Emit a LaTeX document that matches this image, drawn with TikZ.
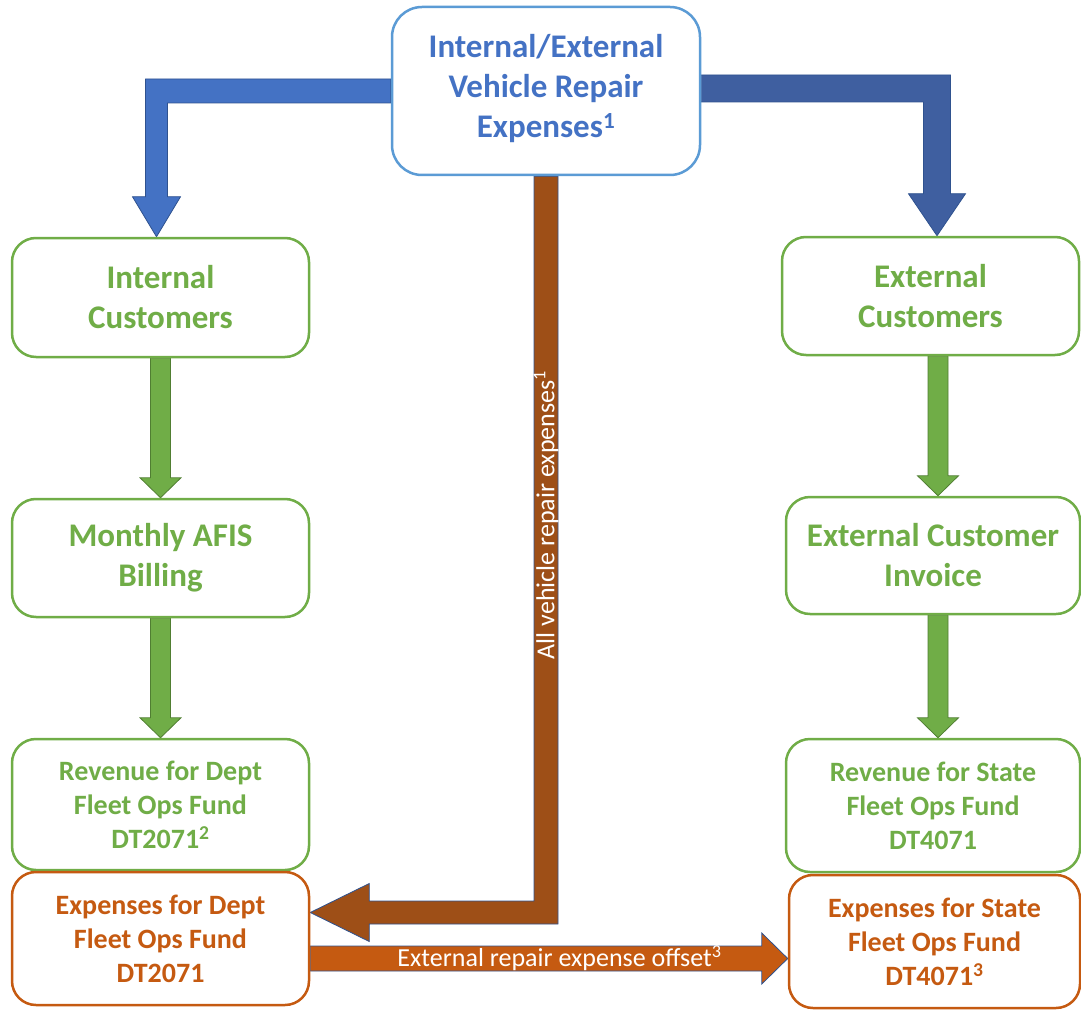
\documentclass[tikz,border=0pt]{standalone}
\usepackage{fontspec}
\setmainfont{Carlito}
\usetikzlibrary{calc,backgrounds}
\definecolor{tblue}{HTML}{4472C4}
\definecolor{bord}{HTML}{5B9BD5}
\definecolor{dblue}{HTML}{3F5FA0}
\definecolor{gr}{HTML}{70AD47}
\definecolor{dgr}{HTML}{507E32}
\definecolor{org}{HTML}{C55A11}
\definecolor{brn}{HTML}{9E4F17}
\definecolor{ol}{HTML}{2F528F}
\begin{document}
\begin{tikzpicture}[x=1pt,y=-1pt,
  box/.style={draw, line width=2.5pt, rounded corners=24pt, fill=white, align=center, inner sep=0pt},
  bigtext/.style={font=\bfseries\fontsize{33}{40}\selectfont},
  smalltext/.style={font=\bfseries\fontsize{28}{34}\selectfont},
  topbox/.style={box, bigtext, rounded corners=30pt, draw=bord, text=tblue},
  greenbox/.style={box, bigtext, draw=gr, text=gr},
  greensmall/.style={box, smalltext, draw=gr, text=gr},
  orangesmall/.style={box, smalltext, draw=org, text=org},
  bluearrow/.style={fill=tblue, draw=ol, line width=0.8pt, line join=miter},
  darkbluearrow/.style={fill=dblue, draw=ol, line width=0.8pt, line join=miter},
  greenarrow/.style={fill=gr, draw=dgr, line width=0.8pt, line join=miter},
  brownarrow/.style={fill=brn, draw=ol, line width=0.8pt, line join=miter},
  orangearrow/.style={fill=org, draw=ol, line width=0.8pt, line join=miter},
  arrowlabel/.style={text=white, inner sep=0pt, font=\fontsize{26}{30}\selectfont}
]
\useasboundingbox (0,0) rectangle (1081,1011);

% nodes
\node[topbox, minimum width=308pt, minimum height=168pt, text depth=10pt] (top) at (546,91)
  {Internal/External\\Vehicle Repair\\Expenses\textsuperscript{1}};
\node[greenbox, minimum width=297pt, minimum height=119pt] (ic) at (160.5,297.5)
  {Internal\\Customers};
\node[greenbox, minimum width=297pt, minimum height=118pt] (ec) at (930.5,296)
  {External\\Customers};
\node[greenbox, minimum width=297pt, minimum height=118pt] (ma) at (160.5,558)
  {Monthly AFIS\\Billing};
\node[greenbox, minimum width=294pt, minimum height=117pt] (inv) at (933,555.5)
  {External Customer\\Invoice};
\node[greensmall, minimum width=297pt, minimum height=131pt] (rd) at (160.5,804.5)
  {Revenue for Dept\\Fleet Ops Fund\\DT2071\textsuperscript{2}};
\node[greensmall, minimum width=294pt, minimum height=133pt] (rs) at (933,805.5)
  {Revenue for State\\Fleet Ops Fund\\DT4071};
\node[orangesmall, minimum width=297pt, minimum height=133pt] (ed) at (160.5,938.5)
  {Expenses for Dept\\Fleet Ops Fund\\DT2071};
\node[orangesmall, minimum width=291pt, minimum height=133pt] (es) at (934.5,941.5)
  {Expenses for State\\Fleet Ops Fund\\DT4071\textsuperscript{3}};

% helper coordinates
\coordinate (LT) at ($(ic.north)+(-4,0)$);
\coordinate (RT) at ($(ec.north)+(6.5,0)$);
\coordinate (T) at ($(ed.east)+(0,-26)$);
\coordinate (S) at ($(ed.east)+(0,20)$);
\coordinate (E) at (es.west |- S);
\coordinate (G1a) at ($(ic.south)+(0,0)$);
\coordinate (G1b) at (G1a |- ma.north);
\coordinate (G2a) at ($(ma.south)+(0,0)$);
\coordinate (G2b) at (G2a |- rd.north);
\coordinate (G3a) at ($(ec.south)+(7.5,0)$);
\coordinate (G3b) at (G3a |- inv.north);
\coordinate (G4a) at ($(inv.south)+(5,0)$);
\coordinate (G4b) at (G4a |- rs.north);

\begin{scope}[on background layer]
% left blue arrow
\filldraw[bluearrow] ($(top.west)+(0,-12)$) -| ($(LT)+(-11,-40)$) -- ++(-13,0) -- (LT)
  -- ++(24,-40) -- ++(-13,0) |- ($(top.west)+(0,12)$) -- cycle;
% right blue arrow
\filldraw[darkbluearrow] ($(top.east)+(0,-16)$) -| ($(RT)+(13.5,-42)$) -- ++(15,0) -- (RT)
  -- ++(-28.5,-42) -- ++(15,0) |- ($(top.east)+(0,11)$) -- cycle;
% green arrows
\foreach \a/\b in {G1a/G1b, G2a/G2b, G3a/G3b, G4a/G4b}{
  \filldraw[greenarrow] ($(\a)+(-10,0)$) -- ($(\b)+(-10,-20)$) -- ++(-10.5,0) -- (\b)
    -- ++(20.5,-20) -- ++(-10.5,0) -- ($(\a)+(10,0)$) -- cycle;
}
% brown arrow
\filldraw[brownarrow] ($(top.south)+(-12,0)$) |- ($(T)+(59,-11.5)$) -- ++(0,-17.5) -- (T)
  -- ++(59,29) -- ++(0,-17.5) -| ($(top.south)+(12,0)$) -- cycle;
% orange arrow
\filldraw[orangearrow] ($(S)+(0,-12.5)$) -- ($(E)+(-26,-12.5)$) -- ++(0,-13) -- (E)
  -- ++(-26,25.5) -- ++(0,-13) -- ($(S)+(0,12.5)$) -- cycle;
\end{scope}

% labels on arrows
\node[arrowlabel, rotate=90] (lv) at ($(top.south)!0.46!(top.south |- T)$)
  {All vehicle repair expenses\textsuperscript{1}};
\node[arrowlabel] (lh) at ($(S)!0.522!(E)$)
  {External repair expense offset\textsuperscript{3}};
\end{tikzpicture}
\end{document}
